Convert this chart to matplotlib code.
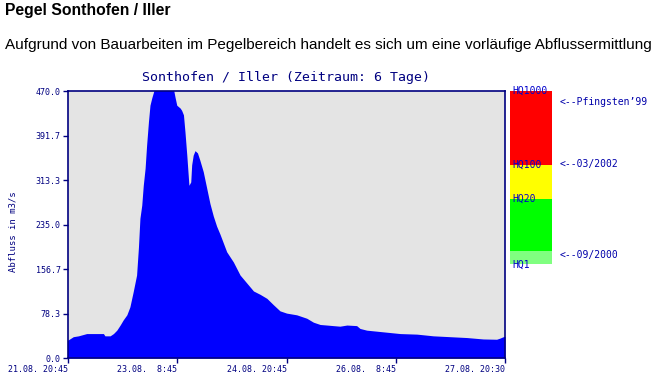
import numpy as np
import matplotlib.pyplot as plt

# discharge series, hours after 21.08. 20:45
hours = [0, 1.9, 3.6, 6.3, 11.8, 12.3, 14.0, 15.1, 16.2, 17.3, 18.3, 19.5, 20.5,
         21.6, 22.7, 23.3, 23.8, 24.4, 24.9, 25.5, 26.0, 26.6, 27.1, 27.7, 28.8,
         30.5, 33.0, 34.8, 35.3, 35.9, 37.0, 37.5, 38.1, 38.6, 39.2, 39.5, 39.9,
         40.5, 40.8, 41.3, 41.9, 42.7, 43.5, 44.6, 45.7, 46.8, 47.9, 49.0, 50.1,
         52.3, 54.5, 56.7, 58.9, 61.1, 63.3, 65.5, 67.6, 69.8, 72.0, 75.3, 78.6,
         80.8, 83.0, 85.2, 87.3, 89.5, 91.8, 95.0, 96.1, 98.3, 103.8, 109.3,
         114.8, 120.2, 125.7, 131.2, 136.6, 141.0, 142.1, 143.2, 143.75]
flow = [31, 37.5, 39, 43, 43, 39, 39, 43, 49, 58, 67, 76, 90,
        117, 146, 194, 246, 269, 304, 334, 375, 416, 445, 458, 478,
        492, 488, 474, 460, 445, 440, 436, 428, 398, 357, 334, 304,
        310, 340, 357, 365, 361, 348, 328, 300, 272, 250, 232, 218,
        187, 169, 146, 132, 118, 112, 105, 94, 83, 79, 76, 70,
        63, 59, 58, 57, 56, 58, 57, 52, 49, 46, 43,
        42, 39, 37.5, 36, 33.5, 33, 35, 37.5, 38]

tick_hours = [0, 36, 72, 108, 143.75]
tick_labels = ['21.08. 20:45', '23.08.  8:45', '24.08. 20:45', '26.08.  8:45', '27.08. 20:30']
ymax = 470.0

# flood warning bands
band_edges = [165, 189, 280, 340, 470]
band_colors = ['#80ff80', '#00ff00', '#ffff00', '#ff0000']
hq_labels = ['HQ1', 'HQ20', 'HQ100', 'HQ1000']
hq_values = [165, 280, 340, 470]
event_labels = ['<--Pfingsten\u201999', '<--03/2002', '<--09/2000']
event_values = [450, 341, 182]

navy = '#000080'
mono = 'DejaVu Sans Mono'
W, H = 672, 380

fig = plt.figure(figsize=(6.72, 3.80), dpi=100)
fig.patch.set_facecolor('white')

fig.text(5 / W, 1 - 10 / H, 'Pegel Sonthofen / Iller', fontsize=11.3, fontweight='bold',
         family='Liberation Sans', va='center', ha='left')
fig.text(5 / W, 1 - 45 / H,
         'Aufgrund von Bauarbeiten im Pegelbereich handelt es sich um eine vorl\u00e4ufige Abflussermittlung',
         fontsize=11, family='Liberation Sans', va='center', ha='left')

ax = fig.add_axes([67.5 / W, 1 - 358 / H, (505 - 67.5) / W, (358 - 91) / H])
ax.set_facecolor('#e4e4e4')
ax.fill_between(hours, flow, 0, color='#0000ff', lw=0)
ax.set_xlim(0, tick_hours[-1])
ax.set_ylim(0, ymax)

yt = np.linspace(0, ymax, 7)
ax.set_yticks(yt)
ax.set_yticklabels(['%.1f' % v for v in yt])
ax.set_xticks(tick_hours)
ax.set_xticklabels(tick_labels)
plt.setp(ax.get_xticklabels(), ha='right')
ax.tick_params(direction='out', length=3.5, width=1, colors=navy, labelsize=6, pad=1.5)
for lab in ax.get_xticklabels() + ax.get_yticklabels():
    lab.set_family(mono)
for sp in ax.spines.values():
    sp.set_color(navy)
    sp.set_linewidth(1.2)

fig.text(286 / W, 1 - 78 / H, 'Sonthofen / Iller (Zeitraum: 6 Tage)', family=mono,
         fontsize=9.5, color=navy, ha='center', va='center')
fig.text(13 / W, 1 - 232 / H, 'Abfluss in m3/s', family=mono, fontsize=6.5, color=navy,
         rotation=90, ha='center', va='center')

# HQ bar on the right, same y scale
axh = fig.add_axes([510 / W, 1 - 358 / H, 42 / W, (358 - 91) / H])
axh.set_xlim(0, 1)
axh.set_ylim(0, ymax)
axh.axis('off')
for i in range(len(band_colors)):
    axh.bar(0.5, band_edges[i + 1] - band_edges[i], bottom=band_edges[i], width=1,
            color=band_colors[i], lw=0)
for lab, v in zip(hq_labels, hq_values):
    axh.text(0.05, v, lab, family=mono, fontsize=7, color='#0000cc', va='center',
             ha='left', clip_on=False)
for lab, v in zip(event_labels, event_values):
    axh.text(1.17, v, lab, family=mono, fontsize=7, color='#0000aa', va='center',
             ha='left', clip_on=False)

fig.savefig('out.png', dpi=100)
plt.close(fig)
